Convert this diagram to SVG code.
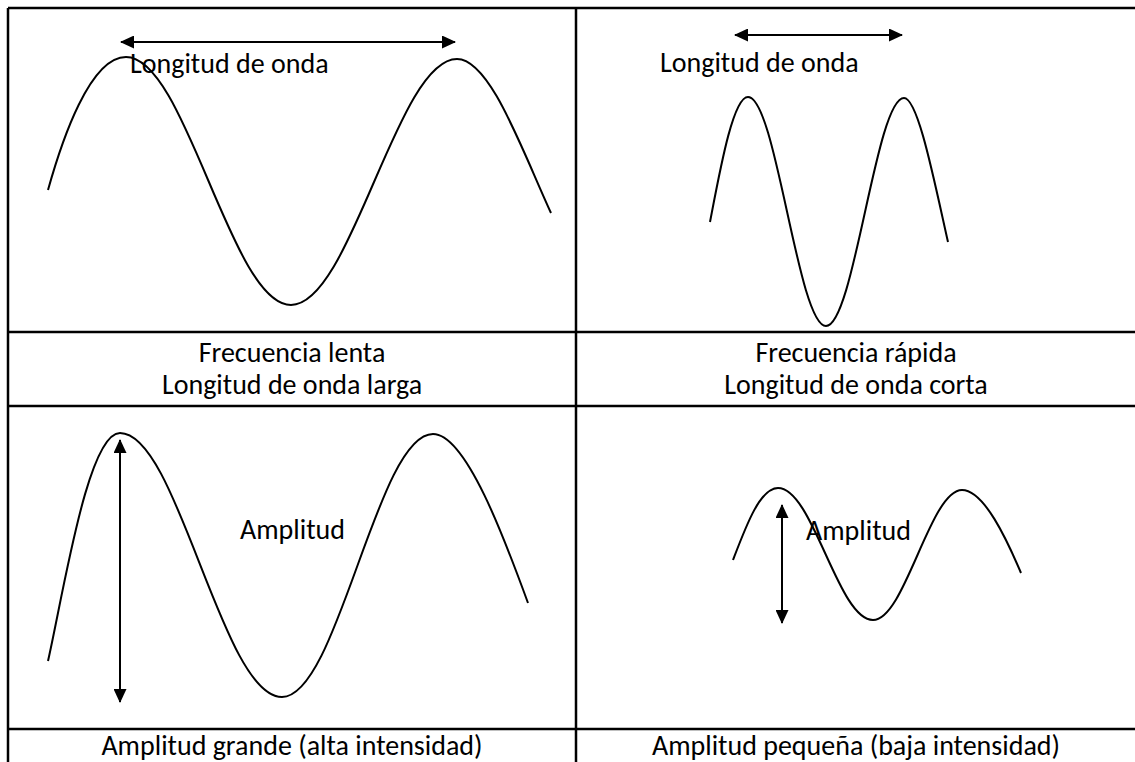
<svg xmlns="http://www.w3.org/2000/svg" width="1135" height="762" viewBox="0 0 1135 762">
<style>
.grid{stroke:#000;stroke-width:2.5;fill:none}
.wave{stroke:#000;stroke-width:2;fill:none}
.arr{stroke:#000;stroke-width:2;fill:none;marker-start:url(#ah);marker-end:url(#ah)}
text{font-family:Carlito,Calibri,"Open Sans","Noto Sans",sans-serif;font-size:28px;fill:#000}
.c{text-anchor:middle}
</style>
<defs>
<marker id="ah" viewBox="0 0 14 13" refX="13" refY="6.5" markerWidth="14" markerHeight="13" markerUnits="userSpaceOnUse" orient="auto-start-reverse">
<path d="M0,0 L14,6.5 L0,13 Z" fill="#000"/>
</marker>
</defs>
<rect width="1135" height="762" fill="#fff"/>
<g id="table">
<line class="grid" x1="8" y1="8" x2="1135" y2="8"/>
<line class="grid" x1="8" y1="8" x2="8" y2="762"/>
<line class="grid" x1="576" y1="8" x2="576" y2="762"/>
<line class="grid" x1="8" y1="332" x2="1135" y2="332"/>
<line class="grid" x1="8" y1="406" x2="1135" y2="406"/>
<line class="grid" x1="8" y1="729" x2="1135" y2="729"/>
</g>
<g id="cell-long-wave">
<path class="wave" d="M48,190 C62,140 90,57 126,57 C186,57 231,305 291,305 C351,305 397,59 457,59 C490,59 522,150 551,213"/>
<text x="130" y="73">Longitud de onda</text>
</g>
<g id="cell-short-wave">
<path class="wave" d="M710,222 C720,170 733,97 748,97 C776,97 798,326 826,326 C854,326 876,98 904,98 C918,98 934,180 948,242"/>
<text x="660" y="72">Longitud de onda</text>
</g>
<g id="caption-1">
<text class="c" x="292" y="362">Frecuencia lenta</text>
<text class="c" x="292" y="394">Longitud de onda larga</text>
</g>
<g id="caption-2">
<text class="c" x="856" y="362">Frecuencia rápida</text>
<text class="c" x="856" y="394">Longitud de onda corta</text>
</g>
<g id="cell-large-amp">
<path class="wave" d="M48,661 C64,590 88,433 120,433 C178,433 222,697 282,697 C338,697 377,434 433,434 C466,434 505,540 528,603"/>
<text x="240" y="539">Amplitud</text>
</g>
<g id="cell-small-amp">
<path class="wave" d="M733,560 C746,526 760,488 778,488 C813,488 838,620 873,620 C905,620 930,490 962,490 C984,490 1007,540 1021,573"/>
<text x="806" y="540">Amplitud</text>
</g>
<g id="caption-3">
<text class="c" x="292" y="755">Amplitud grande (alta intensidad)</text>
</g>
<g id="caption-4">
<text class="c" x="856" y="755">Amplitud pequeña (baja intensidad)</text>
</g>
<g id="connectors">
<line class="arr" x1="121" y1="42" x2="455" y2="42"/>
<line class="arr" x1="735" y1="35" x2="902" y2="35"/>
<line class="arr" x1="120" y1="440" x2="120" y2="702"/>
<line class="arr" x1="782" y1="505" x2="782" y2="623"/>
</g>
</svg>
